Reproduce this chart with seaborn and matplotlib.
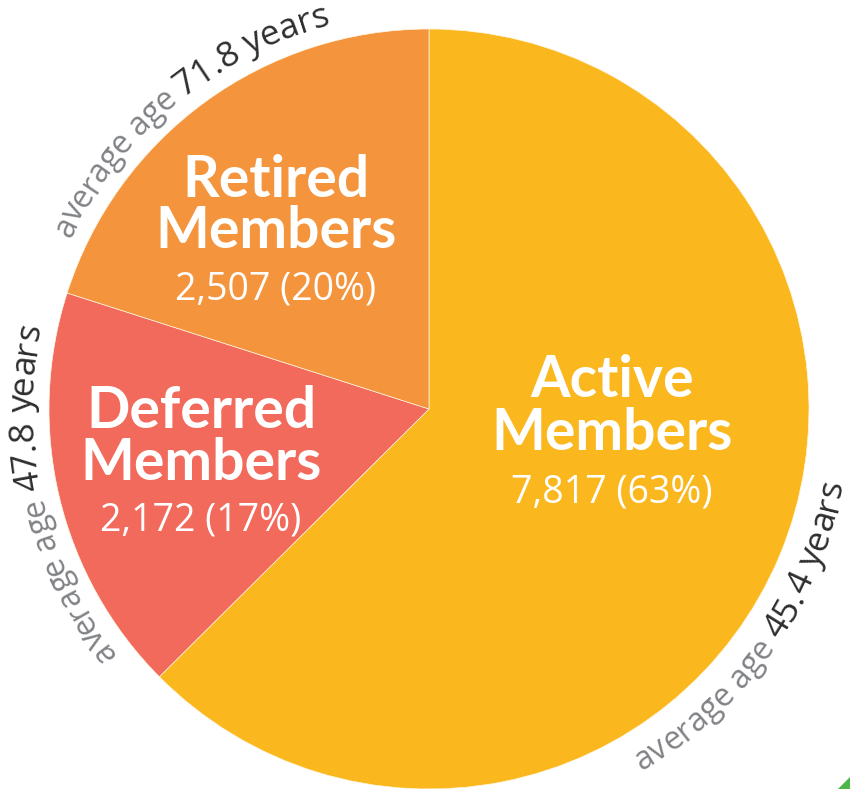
import numpy as np
import matplotlib
matplotlib.use("Agg")
import matplotlib.pyplot as plt
import seaborn as sns
from matplotlib.patches import Polygon
from matplotlib.font_manager import FontProperties

# ---- data ----
categories = ["Active", "Deferred", "Retired"]
members = [7817, 2172, 2507]
avg_age = [45.4, 47.8, 71.8]
colors_hex = ["#FAB71E", "#F26A5C", "#F4943C"]

sns.set_theme(style="white")
plt.rcParams['font.family'] = ['Open Sans', 'DejaVu Sans']

W, H = 850, 789
fig = plt.figure(figsize=(W / 100, H / 100), dpi=100)
ax = fig.add_axes([0, 0, 1, 1])
cx, cy, R = 429, H - 409, 380
palette = sns.color_palette(colors_hex)
ax.pie(members, colors=palette, startangle=90, counterclock=False,
       radius=R, center=(cx, cy),
       wedgeprops=dict(edgecolor='#FFF6E0', linewidth=0.5))
ax.set_xlim(0, W)
ax.set_ylim(0, H)
ax.set_aspect('equal')
ax.axis('off')

total = sum(members)

# ---- labels inside wedges ----
layout = {
    "Active": (612, [397, 450, 502]),
    "Deferred": (201, [428, 480, 530]),
    "Retired": (276, [197, 248, 299]),
}
title_fp = FontProperties(family='Lato', weight='bold', size=41)
num_fp = FontProperties(family='Open Sans', size=27)
for cat, n in zip(categories, members):
    x, ys = layout[cat]
    ax.text(x, H - ys[0], cat, ha='center', va='baseline', color='white', fontproperties=title_fp)
    ax.text(x, H - ys[1], "Members", ha='center', va='baseline', color='white', fontproperties=title_fp)
    pct = round(100 * n / total)
    ax.text(x, H - ys[2], f"{n:,} ({pct}%)", ha='center', va='baseline', color='white', fontproperties=num_fp)

# ---- curved text ----
renderer = fig.canvas.get_renderer()


def tw(s, fp):
    w, h, d = renderer.get_text_width_height_descent(s, fp, ismath=False)
    return w


def curved(parts, mid_deg, r_base, outward=True):
    # parts: list of (string, colour, fontsize)
    chars = []   # (char, colour, fp, centre offset)
    offset = 0.0
    for s, col, fs in parts:
        fp = FontProperties(family='Open Sans', size=fs)
        ref = tw("l", fp)
        pos = [0.0] + [tw(s[:i + 1] + "l", fp) - ref for i in range(len(s))]
        for i, ch in enumerate(s):
            chars.append((ch, col, fp, offset + (pos[i] + pos[i + 1]) / 2))
        offset += pos[-1]
    tot = offset
    xh = 0.27 * 24 * 100 / 72
    r_arc = r_base + xh if outward else r_base - xh
    mid = np.deg2rad(mid_deg)
    for ch, col, fp, cc in chars:
        if ch == ' ':
            continue
        c = cc - tot / 2
        if outward:
            th = mid - c / r_arc
            rot = np.rad2deg(th) - 90
        else:
            th = mid + c / r_arc
            rot = np.rad2deg(th) + 90
        x = cx + r_base * np.cos(th)
        y = cy + r_base * np.sin(th)
        ax.text(x, y, ch, rotation=rot, rotation_mode='anchor', ha='center',
                va='baseline', color=col, fontproperties=fp)


grey, dark = "#808285", "#2E2E2E"
arc_layout = {
    "Active": (-34.8, 420, False),
    "Deferred": (193.0, 397, True),
    "Retired": (129.5, 397, True),
}
for cat, age in zip(categories, avg_age):
    mid, rb, outw = arc_layout[cat]
    curved([("average age ", grey, 23), (f"{age} years", dark, 25.5)], mid, rb, outward=outw)

# small green corner mark
ax.add_patch(Polygon([(838, 0), (850, 0), (850, 12)], closed=True, color="#4CB748", lw=0))

fig.savefig("out.png", dpi=100)
